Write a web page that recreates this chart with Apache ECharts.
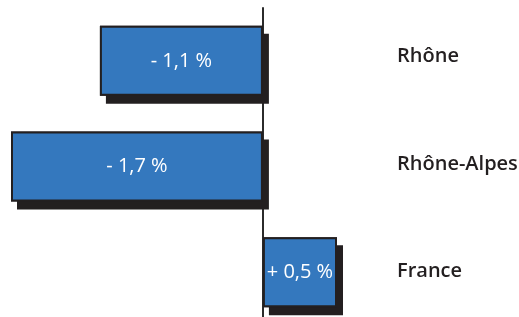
<!DOCTYPE html>
<html lang="fr">
<head>
<meta charset="utf-8">
<title>Évolution</title>
<script src="https://cdn.jsdelivr.net/npm/echarts@6/dist/echarts.min.js"></script>
<style>
  html, body { margin: 0; padding: 0; background: #fff; }
  #main { width: 519px; height: 317px; }
</style>
</head>
<body>
<div id="main"></div>
<script type="text/javascript">
// territoires et variations (en %)
var territoires = ['Rhône', 'Rhône-Alpes', 'France'];
var variations = [-1.1, -1.7, 0.5];
var etiquettes = ['- 1,1 %', '- 1,7 %', '+ 0,5 %'];

var chart = echarts.init(document.getElementById('main'));

var option = {
    animation: false,
    grid: [
        { left: 11, right: 182, top: 8, bottom: -8, outerBoundsMode: 'none' },
        // grille des libellés, un peu plus haute
        { left: 11, right: 182, top: 3, bottom: -8, outerBoundsMode: 'none' }
    ],
    xAxis: [
        { type: 'value', min: -1.7, max: 0.5, show: false, gridIndex: 0 },
        { type: 'value', min: -1.7, max: 0.5, show: false, gridIndex: 1 }
    ],
    yAxis: [{
        type: 'category',
        gridIndex: 0,
        data: territoires,
        inverse: true,
        axisLine: { show: true, onZero: true, lineStyle: { color: '#2b2b2b', width: 2 } },
        axisTick: { show: false },
        axisLabel: { show: false },
        splitLine: { show: false }
    }, {
        type: 'category',
        gridIndex: 1,
        data: territoires,
        inverse: true,
        position: 'right',
        axisLine: { show: false },
        axisTick: { show: false },
        axisLabel: {
            margin: 60,
            align: 'left',
            color: '#231f20',
            fontSize: 20,
            fontWeight: 600,
            fontFamily: 'Open Sans'
        }
    }],
    series: [{
        // ombre portée sous les barres
        type: 'bar',
        data: variations,
        barWidth: 70,
        silent: true,
        itemStyle: {
            color: '#231f20',
            shadowColor: '#231f20',
            shadowBlur: 0,
            shadowOffsetX: 6,
            shadowOffsetY: 8
        }
    }, {
        type: 'bar',
        data: variations,
        barWidth: 70,
        barGap: '-100%',
        itemStyle: {
            color: '#3478be',
            borderColor: '#231f20',
            borderWidth: 2
        },
        label: {
            show: true,
            position: 'inside',
            color: '#fff',
            fontSize: 20,
            fontFamily: 'Open Sans',
            formatter: function (p) { return etiquettes[p.dataIndex]; }
        }
    }]
};

chart.setOption(option);
</script>
</body>
</html>
